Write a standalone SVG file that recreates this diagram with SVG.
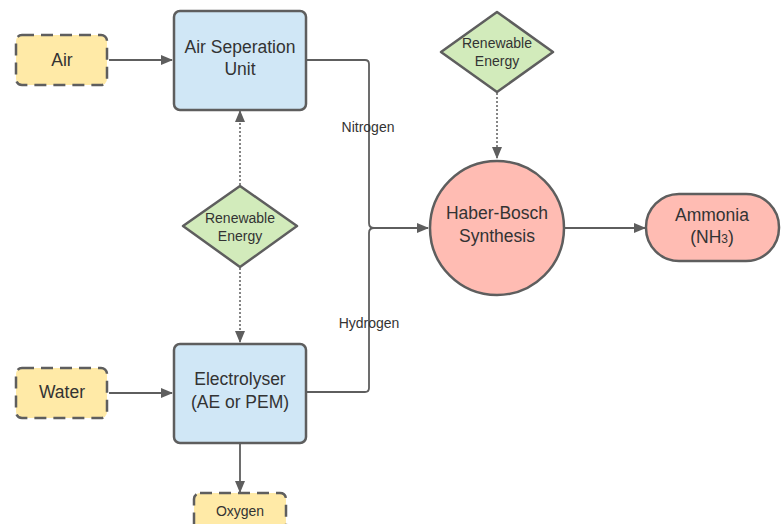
<svg xmlns="http://www.w3.org/2000/svg" width="784" height="524" viewBox="0 0 784 524">
<style>
text{font-family:"Liberation Sans",Arial,sans-serif;fill:#333;text-anchor:middle}
.big{font-size:17.5px}
.sm{font-size:14px}
.lbl{font-size:14px}
.in{fill:#ffeaa7;stroke:#5e5e5e;stroke-width:2.5;stroke-dasharray:12 7}
.proc{fill:#d0e7f6;stroke:#5e5e5e;stroke-width:2.5}
.ren{fill:#d2ebbb;stroke:#5e5e5e;stroke-width:2.5;stroke-linejoin:round}
.out{fill:#ffbcb3;stroke:#5e5e5e;stroke-width:2.5}
.c{fill:none;stroke:#5e5e5e;stroke-width:1.8}
.d{fill:none;stroke:#5e5e5e;stroke-width:1.5;stroke-dasharray:2 2}
</style>
<defs>
<marker id="ah" markerWidth="12" markerHeight="10" refX="11" refY="5" orient="auto" markerUnits="userSpaceOnUse">
<path d="M0,0 L12,5 L0,10 Z" fill="#5e5e5e"/>
</marker>
</defs>
<rect width="784" height="524" fill="#fff"/>
<g id="connectors">
<line class="c" x1="109" y1="60" x2="172" y2="60" marker-end="url(#ah)"/>
<line class="c" x1="109" y1="393" x2="172" y2="393" marker-end="url(#ah)"/>
<path class="c" d="M306,60 H365 Q369,60 369,64 V223 Q369,228 374,228"/>
<path class="c" d="M306,392 H365 Q369,392 369,388 V233 Q369,228 374,228 H428" marker-end="url(#ah)"/>
<line class="c" x1="564" y1="228" x2="645" y2="228" marker-end="url(#ah)"/>
<line class="c" x1="240" y1="443" x2="240" y2="492" marker-end="url(#ah)"/>
<line class="d" x1="497" y1="93" x2="497" y2="158" marker-end="url(#ah)"/>
<line class="d" x1="240" y1="185" x2="240" y2="111" marker-end="url(#ah)"/>
<line class="d" x1="240" y1="268" x2="240" y2="342" marker-end="url(#ah)"/>
<text class="lbl" x="368" y="132">Nitrogen</text>
<text class="lbl" x="369" y="328">Hydrogen</text>
</g>
<g id="air">
<rect class="in" x="16" y="35" width="91" height="50" rx="6"/>
<text class="big" x="62" y="66">Air</text>
</g>
<g id="water">
<rect class="in" x="16" y="368" width="91" height="50" rx="6"/>
<text class="big" x="62" y="398">Water</text>
</g>
<g id="oxygen">
<rect class="in" x="194" y="493" width="92" height="45" rx="6"/>
<text class="sm" x="240" y="516">Oxygen</text>
</g>
<g id="asu">
<rect class="proc" x="174" y="11" width="132" height="99" rx="6"/>
<text class="big" x="240" y="53">Air Seperation</text>
<text class="big" x="240" y="75">Unit</text>
</g>
<g id="electrolyser">
<rect class="proc" x="174" y="344" width="132" height="99" rx="6"/>
<text class="big" x="240" y="385">Electrolyser</text>
<text class="big" x="240" y="408">(AE or PEM)</text>
</g>
<g id="renewable-top">
<path class="ren" d="M497,12 L553,52 L497,92 L441,52 Z"/>
<text class="sm" x="497" y="48">Renewable</text>
<text class="sm" x="497" y="66">Energy</text>
</g>
<g id="renewable-left">
<path class="ren" d="M240,186 L297,226 L240,267 L183,226 Z"/>
<text class="sm" x="240" y="223">Renewable</text>
<text class="sm" x="240" y="241">Energy</text>
</g>
<g id="haber-bosch">
<circle class="out" cx="497" cy="228" r="67"/>
<text class="big" x="497" y="219">Haber-Bosch</text>
<text class="big" x="497" y="242">Synthesis</text>
</g>
<g id="ammonia">
<rect class="out" x="646" y="194" width="133" height="67" rx="33"/>
<text class="big" x="712" y="221">Ammonia</text>
<text class="big" x="712" y="243">(NH<tspan font-size="12">3</tspan>)</text>
</g>
</svg>
